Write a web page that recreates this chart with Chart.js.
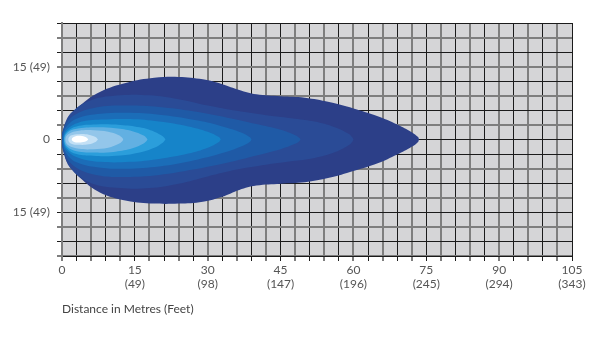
<!DOCTYPE html>
<html><head><meta charset="utf-8">
<script src="https://cdn.jsdelivr.net/npm/chart.js@4.4.0/dist/chart.umd.min.js"></script>
<style>html,body{margin:0;padding:0;background:#fff;overflow:hidden;}</style>
</head><body>
<canvas id="c" width="600" height="339"></canvas>
<script>
// ---- axis ticks ----
const xLabelValues = [0, 15, 30, 45, 60, 75, 90, 105];
const xLabelMetres = ['0', '15', '30', '45', '60', '75', '90', '105'];
const xLabelFeet   = ['', '(49)', '(98)', '(147)', '(196)', '(245)', '(294)', '(343)'];
const yLabelValues = [15, 0, -15];
const yLabelTexts  = ['15 (49)', '0', '15 (49)'];
const axisTitle = 'Distance in Metres (Feet)';

// ---- beam zones (inner -> outer), contour points [metres ahead, metres lateral] ----
const zoneColors = ['#ffffff', '#c3e0f5', '#93c6ea', '#62b0e2', '#2b9edb', '#1684c9', '#1b6db8', '#1f5aa6', '#2a4b96', '#2c3f88'];

const zoneW_upper = [[2,0],[2.4,0.5],[3.5,0.75],[4.7,0.55],[5.2,0.25],[5.4,0]];
const zoneW_lower = [[2,0],[2.4,-0.45],[3.5,-0.6],[4.7,-0.45],[5.2,-0.2],[5.4,0]];

const zoneI_upper = [[1.3,0],[1.8,0.8],[3.5,1.1],[5.5,1.0],[6.9,0.5],[7.4,0]];
const zoneI_lower = [[1.3,0],[1.8,-0.8],[3.5,-1.1],[5.5,-1.0],[6.9,-0.5],[7.4,0]];

const zoneH_upper = [[0.7,0],[1.3,1.1],[3.5,1.8],[6.5,1.9],[9.5,1.6],[11.7,0.9],[12.4,0.35],[12.6,0]];
const zoneH_lower = [[0.7,0],[1.3,-1.2],[3.5,-1.9],[6.5,-2.0],[9.5,-1.7],[11.7,-0.9],[12.4,-0.35],[12.6,0]];

const zoneG_upper = [[0.5,0],[1.1,1.4],[3,2.2],[7,2.5],[11,2.3],[14.5,1.7],[16.8,0.8],[17.4,0.3],[17.6,0]];
const zoneG_lower = [[0.5,0],[1.1,-1.5],[3,-2.4],[7,-2.7],[11,-2.5],[14.5,-1.8],[16.8,-0.8],[17.4,-0.3],[17.6,0]];

const zoneF_upper = [[0.4,0],[1,1.6],[3,2.7],[7,3.1],[12,3.0],[16,2.5],[19,1.6],[20.8,0.6],[21.3,0]];
const zoneF_lower = [[0.4,0],[1,-1.8],[3,-3.0],[7,-3.4],[12,-3.3],[16,-2.7],[19,-1.7],[20.8,-0.6],[21.3,0]];

const zoneE_upper = [[0.3,0],[0.9,1.9],[3.5,3.5],[8,4.1],[14,4.2],[20,3.7],[26,2.7],[30,1.6],[32.3,0.5],[32.7,0]];
const zoneE_lower = [[0.3,0],[0.9,-2.1],[3.5,-3.8],[8,-4.6],[14,-4.6],[20,-4.0],[26,-2.9],[30,-1.7],[32.3,-0.5],[32.7,0]];

const zoneD_upper = [[0.2,0],[0.7,2.3],[3,4.3],[8,5.3],[14,5.5],[21,5.0],[28,3.9],[33,2.7],[37,1.4],[38.7,0.45],[39,0]];
const zoneD_lower = [[0.2,0],[0.7,-2.5],[3,-4.7],[8,-5.8],[14,-6.0],[21,-5.4],[28,-4.1],[33,-2.8],[37,-1.4],[38.7,-0.45],[39,0]];

const zoneC_upper = [[0,0],[0.5,2.6],[2.5,5.0],[7,6.6],[13,7.0],[20,6.7],[27,5.8],[34,4.5],[40,3.2],[45,2.0],[48,0.9],[48.9,0.3],[49.1,0]];
const zoneC_lower = [[0,0],[0.5,-2.8],[2.5,-5.5],[7,-7.3],[13,-7.7],[20,-7.3],[27,-6.2],[34,-4.8],[40,-3.3],[45,-2.0],[48,-0.9],[48.9,-0.3],[49.1,0]];

const zoneB_upper = [[0,0],[0.4,2.7],[2,5.6],[6,8.1],[12,9.1],[18,9.1],[24,8.3],[30,7.0],[36,5.9],[42,5.0],[48,4.3],[52,3.7],[56,2.6],[59,1.2],[59.8,0.4],[60,0]];
const zoneB_lower = [[0,0],[0.4,-3.0],[2,-6.2],[6,-9.0],[12,-10.0],[18,-10.0],[24,-9.1],[30,-7.6],[36,-6.2],[42,-5.2],[48,-4.4],[52,-3.8],[56,-2.7],[59,-1.2],[59.8,-0.4],[60,0]];

const zoneA_upper = [[0,0],[0.3,2.0],[1.2,4.2],[3.7,7.0],[7.8,9.8],[13.3,11.7],[19,12.7],[24,12.9],[29,12.4],[33,11.4],[36.5,10.2],[40,9.3],[45,8.9],[50,8.6],[55,7.7],[60,6.4],[65,4.8],[69,3.1],[72,1.5],[73.3,0.5],[73.5,0]];
const zoneA_lower = [[0,0],[0.3,-2.2],[1.2,-4.9],[3.7,-7.9],[7.8,-10.9],[13.3,-12.6],[19,-13.2],[24,-13.2],[29,-12.8],[33,-11.8],[36.5,-10.4],[40,-9.5],[45,-9.1],[50,-8.8],[55,-7.9],[60,-6.5],[65,-4.9],[69,-3.1],[72,-1.5],[73.3,-0.5],[73.5,0]];

const zoneUppers = [zoneW_upper, zoneI_upper, zoneH_upper, zoneG_upper, zoneF_upper, zoneE_upper, zoneD_upper, zoneC_upper, zoneB_upper, zoneA_upper];
const zoneLowers = [zoneW_lower, zoneI_lower, zoneH_lower, zoneG_lower, zoneF_lower, zoneE_lower, zoneD_lower, zoneC_lower, zoneB_lower, zoneA_lower];

// closed outline: tip -> along upper edge to the left -> along lower edge back to the tip
function outline(upper, lower) {
  const pts = [];
  for (let i = upper.length - 1; i >= 0; i--) pts.push({x: upper[i][0], y: upper[i][1]});
  for (let i = 1; i < lower.length; i++) pts.push({x: lower[i][0], y: lower[i][1]});
  return pts;
}

const datasets = zoneUppers.map((u, i) => ({
  data: outline(u, zoneLowers[i]),
  showLine: true,
  fill: 'shape',
  backgroundColor: zoneColors[i],
  borderColor: 'rgba(0,0,0,0)',
  borderWidth: 0,
  pointRadius: 0,
  pointHoverRadius: 0,
  tension: 0.4
}));

const DARK = '#1b1b1b', GREY = '#7e7e7e';
const FONT = {family: 'Lato, "Open Sans", sans-serif', size: 12, lineHeight: 1.1};

const plotBg = {
  id: 'plotBg',
  beforeDraw(chart) {
    const {ctx, chartArea: a} = chart;
    ctx.save();
    ctx.fillStyle = '#d5d5d7';
    ctx.fillRect(a.left, a.top, a.right - a.left, a.bottom - a.top);
    ctx.restore();
  }
};

function yDark(v) {
  const k = Math.round(v / 3);
  return v >= 0 ? k % 2 === 0 : Math.abs(k) % 2 === 1;
}

new Chart(document.getElementById('c'), {
  type: 'scatter',
  data: {datasets},
  options: {
    responsive: false,
    animation: false,
    devicePixelRatio: 1,
    layout: {padding: {left: 0, right: 28, top: 23, bottom: 0}},
    plugins: {legend: {display: false}, tooltip: {enabled: false}},
    scales: {
      x: {
        type: 'linear', position: 'bottom', min: 0, max: 105,
        afterFit(s) { s.height = 83; s.paddingLeft = 0; s.paddingRight = 0; },
        ticks: {
          stepSize: 3, autoSkip: false, maxRotation: 0, padding: 3, color: '#555', font: FONT,
          callback(v) {
            const i = xLabelValues.indexOf(v);
            if (i < 0) return '';
            return xLabelFeet[i] ? [xLabelMetres[i], xLabelFeet[i]] : xLabelMetres[i];
          }
        },
        grid: {
          color: c => (c.index % 2 === 1 ? DARK : GREY),
          lineWidth: c => (c.index % 2 === 1 ? 1 : 2),
          tickLength: 5
        },
        border: {color: DARK, width: 1},
        title: {display: true, text: axisTitle, align: 'start', color: '#444', font: FONT, padding: {top: 0, bottom: 23}}
      },
      y: {
        type: 'linear', min: -24, max: 24,
        afterFit(s) { s.width = 62; s.paddingTop = 0; s.paddingBottom = 0; },
        ticks: {
          stepSize: 3, autoSkip: false, padding: 7, color: '#555', font: FONT,
          callback(v) {
            const i = yLabelValues.indexOf(v);
            return i < 0 ? '' : yLabelTexts[i];
          }
        },
        grid: {
          color: c => (c.tick && yDark(c.tick.value) ? DARK : GREY),
          lineWidth: c => (c.tick && yDark(c.tick.value) ? 1 : 2),
          tickLength: 5
        },
        border: {color: GREY, width: 2}
      }
    }
  },
  plugins: [plotBg]
});
</script>
</body></html>
